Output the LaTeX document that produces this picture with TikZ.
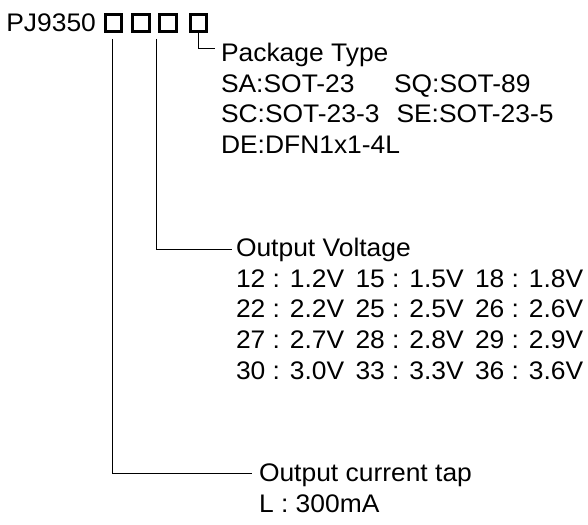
\documentclass[tikz,border=0pt]{standalone}
\usepackage{fontspec}
\setmainfont{Liberation Sans}[FakeStretch=1.04]
\begin{document}
\begin{tikzpicture}[x=1pt,y=-1pt,
  lbl/.style={anchor=base west,inner sep=0pt,outer sep=0pt,font=\fontsize{25.4}{30.6}\selectfont},
  slot/.style={draw,line width=2.9pt,minimum width=16.4pt,minimum height=17.4pt,inner sep=0pt,outer sep=0pt},
  lead/.style={draw,line width=0.9pt}]
\useasboundingbox[fill=white] (0,0) rectangle (588,524);
% part number
\node[lbl] (pn) at (6.3,31.7) {PJ9350};
\node[slot] (b1) at (113.5,23) {};
\node[slot] (b2) at (141,23) {};
\node[slot] (b3) at (168,23) {};
\node[slot] (b4) at (198.5,23) {};
% package type
\node[lbl] (pkg) at (221,61.7) {Package Type};
\node[lbl] (sa) at (221,92.3) {SA:SOT-23};
\node[lbl] (sq) at (394,92.3) {SQ:SOT-89};
\node[lbl] (sc) at (221,122.8) {SC:SOT-23-3};
\node[lbl] (se) at (396.5,122.8) {SE:SOT-23-5};
\node[lbl] (de) at (221,153.3) {DE:DFN1x1-4L};
% output voltage
\node[lbl] (ov) at (236,256.3) {Output Voltage};
\node[lbl] (v12) at (236,287) {12 : 1.2V};
\node[lbl] (v15) at (355.5,287) {15 : 1.5V};
\node[lbl] (v18) at (475,287) {18 : 1.8V};
\node[lbl] (v22) at (236,317.7) {22 : 2.2V};
\node[lbl] (v25) at (355.5,317.7) {25 : 2.5V};
\node[lbl] (v26) at (475,317.7) {26 : 2.6V};
\node[lbl] (v27) at (236,348.4) {27 : 2.7V};
\node[lbl] (v28) at (355.5,348.4) {28 : 2.8V};
\node[lbl] (v29) at (475,348.4) {29 : 2.9V};
\node[lbl] (v30) at (236,379.1) {30 : 3.0V};
\node[lbl] (v33) at (355.5,379.1) {33 : 3.3V};
\node[lbl] (v36) at (475,379.1) {36 : 3.6V};
% output current
\node[lbl] (oc) at (259,481.7) {Output current tap};
\node[lbl] (cl) at (259,512.3) {L : 300mA};
% leader coordinates
\coordinate (p4) at (215,48.3);
\coordinate (s2) at (156,39);
\coordinate (e2) at (231.5,249.5);
\coordinate (s1) at (112,39);
\coordinate (e1) at (251.7,473.3);
\draw[lead] (b4.south) |- (p4);
\draw[lead] (s2) |- (e2);
\draw[lead] (s1) |- (e1);
\end{tikzpicture}
\end{document}
